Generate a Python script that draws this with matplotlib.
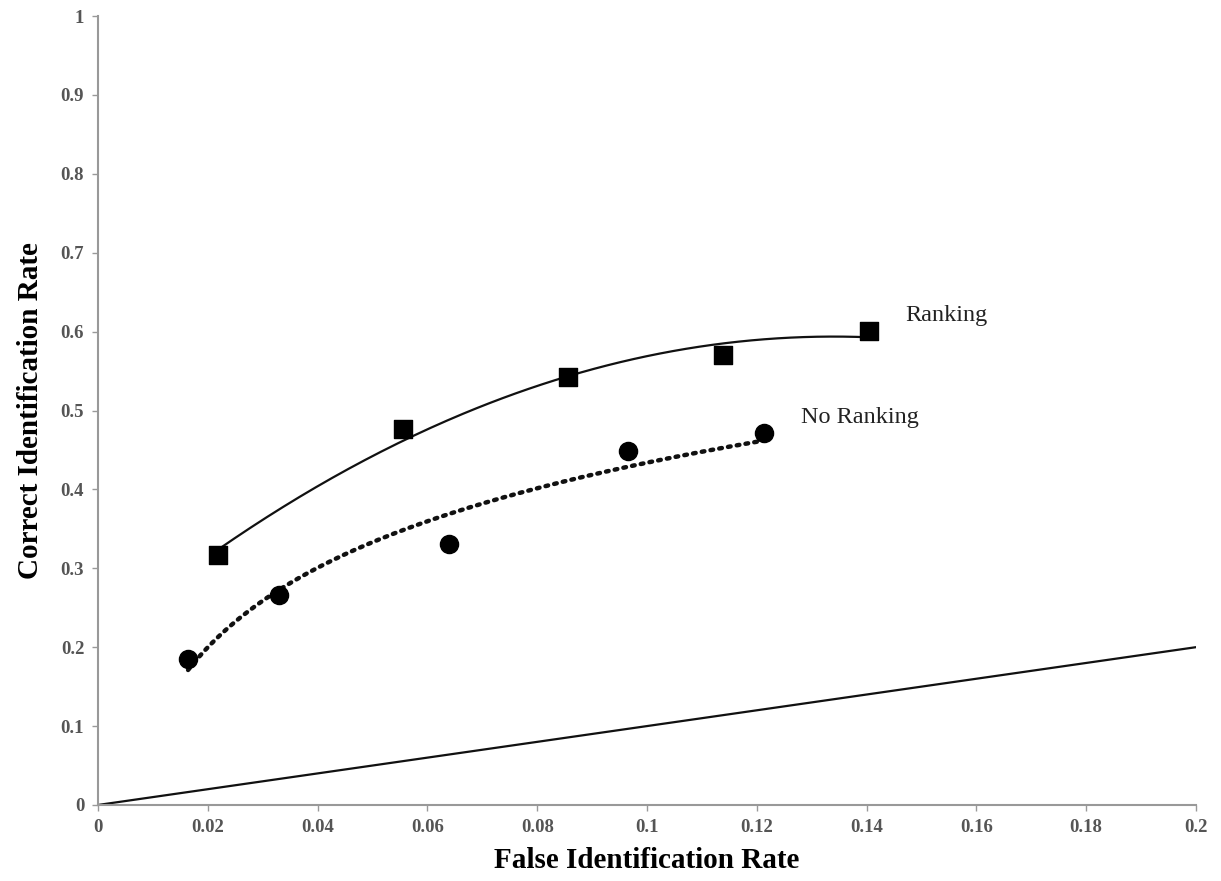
import numpy as np
import matplotlib.pyplot as plt

# Datos de tasas de identificación
rank_x = [0.0218, 0.0555, 0.0856, 0.1138, 0.1405]
rank_y = [0.317, 0.476, 0.542, 0.570, 0.601]
norank_x = [0.0164, 0.0329, 0.0640, 0.0965, 0.1213]
norank_y = [0.185, 0.266, 0.331, 0.449, 0.472]
chance_x = [0, 0.2]
chance_y = [0, 0.2]

x_ticks = [0, 0.02, 0.04, 0.06, 0.08, 0.1, 0.12, 0.14, 0.16, 0.18, 0.2]
x_tick_labels = ['0', '0.02', '0.04', '0.06', '0.08', '0.1', '0.12', '0.14', '0.16', '0.18', '0.2']
y_ticks = [0, 0.1, 0.2, 0.3, 0.4, 0.5, 0.6, 0.7, 0.8, 0.9, 1]
y_tick_labels = ['0', '0.1', '0.2', '0.3', '0.4', '0.5', '0.6', '0.7', '0.8', '0.9', '1']

plt.rcParams['font.family'] = ['Liberation Serif', 'DejaVu Serif']

fig = plt.figure(figsize=(12.21, 8.81), dpi=100)
ax = fig.add_axes([0.0803, 0.0863, 0.8992, 0.8955])

# Tendencias: polinómica (grado 2) y logarítmica
coef_rank = np.polyfit(rank_x, rank_y, 2)
xr = np.linspace(min(rank_x), max(rank_x), 200)
ax.plot(xr, np.polyval(coef_rank, xr), color='#111111', lw=1.6)

coef_log = np.polyfit(np.log(norank_x), norank_y, 1)
xn = np.linspace(min(norank_x), max(norank_x), 200)
ax.plot(xn, coef_log[0] * np.log(xn) + coef_log[1], color='#111111', lw=3.2,
        linestyle=(0, (0.6, 1.4)), dash_capstyle='round')

ax.plot(chance_x, chance_y, color='#111111', lw=1.6)

ax.scatter(rank_x, rank_y, marker='s', s=160, color='black', zorder=3)
ax.scatter(norank_x, norank_y, marker='o', s=170, color='black', zorder=3)

ax.text(0.147, 0.62, 'Ranking', fontsize=17.5, color='#222222', va='center')
ax.text(0.128, 0.491, 'No Ranking', fontsize=17.5, color='#222222', va='center')

ax.set_xlim(0, 0.2)
ax.set_ylim(0, 1)
ax.set_xticks(x_ticks)
ax.set_xticklabels(x_tick_labels)
ax.set_yticks(y_ticks)
ax.set_yticklabels(y_tick_labels)

for side in ['top', 'right']:
    ax.spines[side].set_visible(False)
for side in ['left', 'bottom']:
    ax.spines[side].set_color('#999999')
    ax.spines[side].set_linewidth(1.5)

ax.tick_params(direction='out', length=4, width=1, color='#999999',
               labelsize=13.5, labelcolor='#555555', pad=6)
for lbl in ax.get_xticklabels() + ax.get_yticklabels():
    lbl.set_fontweight('bold')

ax.set_xlabel('False Identification Rate', fontsize=21, fontweight='bold', labelpad=8)
ax.set_ylabel('Correct Identification Rate', fontsize=21, fontweight='bold', labelpad=12)

fig.savefig('out.png', dpi=100)
plt.close(fig)
